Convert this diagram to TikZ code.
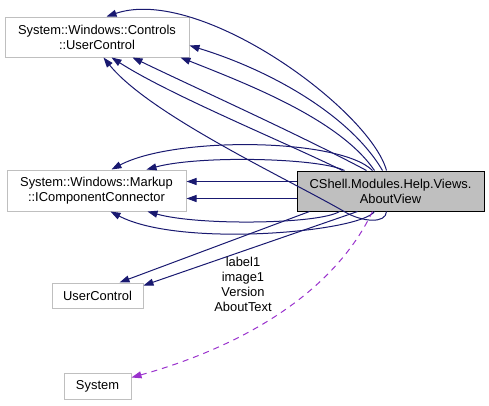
\documentclass[tikz,border=0pt]{standalone}
\usepackage{fontspec}
\setmainfont{Liberation Sans}
\usetikzlibrary{arrows.meta,calc}
\definecolor{edgeblue}{HTML}{191970}
\definecolor{boxgray}{HTML}{BFBFBF}
\definecolor{dashpurple}{HTML}{9A32CD}
\begin{document}
\begin{tikzpicture}[x=1pt,y=-1pt,
  cls/.style={draw=boxgray, fill=white, line width=1pt, inner sep=0pt, align=center,
    font=\fontsize{12.9}{15}\selectfont},
  mainbox/.style={cls, draw=black, fill=boxgray},
  inh/.style={draw=edgeblue, line width=1pt, -{Triangle[length=10pt,width=7pt]}},
  usedash/.style={draw=dashpurple, line width=1pt, dash pattern=on 6pt off 5pt,
    -{Triangle[length=10pt,width=7pt]}},
  lbl/.style={inner sep=0pt, align=center, font=\fontsize{12.9}{15}\selectfont}]
\useasboundingbox (0,0) rectangle (489,405);
% nodes
\node[cls, minimum width=184pt, minimum height=40pt] (uc) at (97,37)
  {System::Windows::Controls\\::UserControl};
\node[cls, minimum width=179pt, minimum height=41pt] (icc) at (96.5,190.5)
  {System::Windows::Markup\\::IComponentConnector};
\node[cls, minimum width=91pt, minimum height=25pt] (usr) at (97.5,295.5) {UserControl};
\node[cls, minimum width=67pt, minimum height=26pt] (sys) at (97.5,386) {System};
\node[mainbox, minimum width=187pt, minimum height=40pt] (av) at (390.5,191)
  {CShell.Modules.Help.Views.\\AboutView};
% edges to System::Windows::Controls::UserControl
\draw[inh] ($(av.north west)+(90,0)$) .. controls (370,110) and (200,-15) .. ($(uc.north west)+(102,0)$);
\draw[inh] ($(av.north west)+(86,0)$) .. controls (350,115) and (270,70) .. ($(uc.north east)+(0,29)$);
\draw[inh] ($(av.north west)+(78,0)$) .. controls (340,120) and (250,85) .. ($(uc.south west)+(176,0)$);
\draw[inh] ($(av.north west)+(70,0)$) .. controls (300,135) and (200,90) .. ($(uc.south west)+(128,0)$);
\draw[inh] ($(av.north west)+(46,0)$) .. controls (280,140) and (170,95) .. ($(uc.south west)+(107,0)$);
\draw[inh] ($(av.south west)+(90,0)$) .. controls (386,224) and (362,222) .. (345,212)
  .. controls (290,180) and (150,115) .. ($(uc.south west)+(99,0)$);
% edges to IComponentConnector
\draw[inh] ($(av.north west)+(76,0)$) .. controls (340,138) and (175,136) .. ($(icc.north west)+(105,0)$);
\draw[inh] ($(av.north west)+(48,0)$) .. controls (320,158) and (200,155) .. ($(icc.north west)+(140,0)$);
\draw[inh] ($(av.north west)+(0,11)$) -- ($(icc.north east)+(0,12)$);
\draw[inh] ($(av.north west)+(0,28)$) -- ($(icc.north east)+(0,29)$);
\draw[inh] ($(av.south west)+(43,0)$) .. controls (320,224) and (200,226) .. ($(icc.south west)+(141,0)$);
\draw[inh] ($(av.south west)+(78,0)$) .. controls (360,232) and (180,248) .. ($(icc.south west)+(104,0)$);
% edges to UserControl
\draw[inh] ($(av.south west)+(13,0)$) -- ($(usr.north west)+(68,0)$);
\draw[inh] ($(av.south west)+(61,0)$) -- ($(usr.north east)+(0,3)$);
% edge to System
\draw[usedash] ($(av.south west)+(76,0)$) .. controls (330,300) and (230,350) .. ($(sys.north east)+(0,5)$);
\node[lbl] (lab) at (243,284) {label1\\image1\\Version\\AboutText};
\end{tikzpicture}
\end{document}
